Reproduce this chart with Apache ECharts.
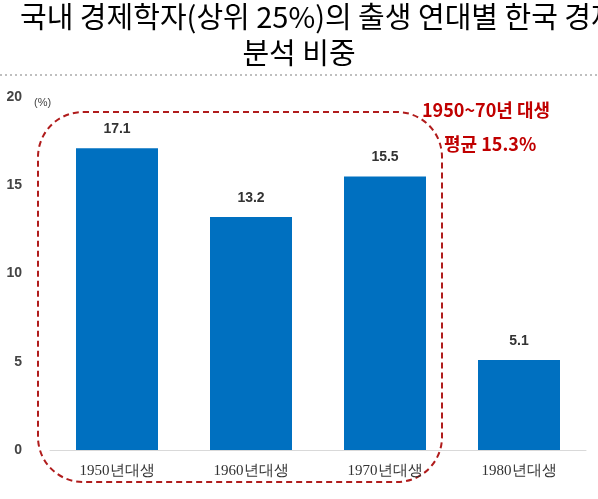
<!DOCTYPE html>
<html><head><meta charset="utf-8">
<script src="https://cdn.jsdelivr.net/npm/echarts@6/dist/echarts.min.js"></script>
<style>html,body{margin:0;padding:0;background:#fff}#c{width:598px;height:499px}</style>
</head><body><div id="c"></div>
<script>
const categories = ['1950년대생','1960년대생','1970년대생','1980년대생'];
const values = [17.1, 13.2, 15.5, 5.1];
const yTicks = [0,5,10,15,20];
const chart = echarts.init(document.getElementById('c'));
chart.setOption({
  animation:false,
  grid:{left:50,right:12,top:97,bottom:49},
  xAxis:{type:'category',data:categories,
    axisLine:{lineStyle:{color:'#d9d9d9'}},axisTick:{show:false},
    axisLabel:{fontFamily:'Liberation Serif',fontSize:15,color:'#333',margin:14}},
  yAxis:{type:'value',min:yTicks[0],max:yTicks[yTicks.length-1],interval:5,
    splitLine:{show:false},axisLine:{show:false},axisTick:{show:false},
    axisLabel:{fontFamily:'Liberation Sans',fontWeight:'bold',fontSize:14,color:'#444',margin:28}},
  series:[{type:'bar',data:values,barWidth:82,itemStyle:{color:'#0070c0'},
    label:{show:true,position:'top',distance:12,fontFamily:'Liberation Sans',fontWeight:'bold',fontSize:14,color:'#333',formatter:p=>p.value.toFixed(1)}}],
  graphic:[
    {type:'text',left:20,top:2,style:{text:'국내 경제학자(상위 25%)의 출생 연대별 한국 경제',font:'29px "Noto Sans CJK KR"',fill:'#000'}},
    {type:'text',left:'center',top:38,style:{text:'분석 비중',font:'29px "Noto Sans CJK KR"',fill:'#000'}},
    {type:'line',shape:{x1:0,y1:75,x2:598,y2:75},style:{stroke:'#aaa',lineDash:[2,3],lineWidth:1.5}},
    {type:'text',left:34,top:97,style:{text:'(%)',font:'11px "Liberation Sans"',fill:'#444'}},
    {type:'rect',shape:{x:38,y:112,width:404,height:370,r:45},style:{fill:'none',stroke:'#b01c1c',lineWidth:2,lineDash:[6,4]}},
    {type:'text',left:422,top:101,style:{text:'1950~70년 대생',font:'bold 18px "Noto Sans CJK KR"',fill:'#c00000'}},
    {type:'text',left:444,top:135,style:{text:'평균 15.3%',font:'bold 18px "Noto Sans CJK KR"',fill:'#c00000'}}
  ]
});
</script></body></html>
